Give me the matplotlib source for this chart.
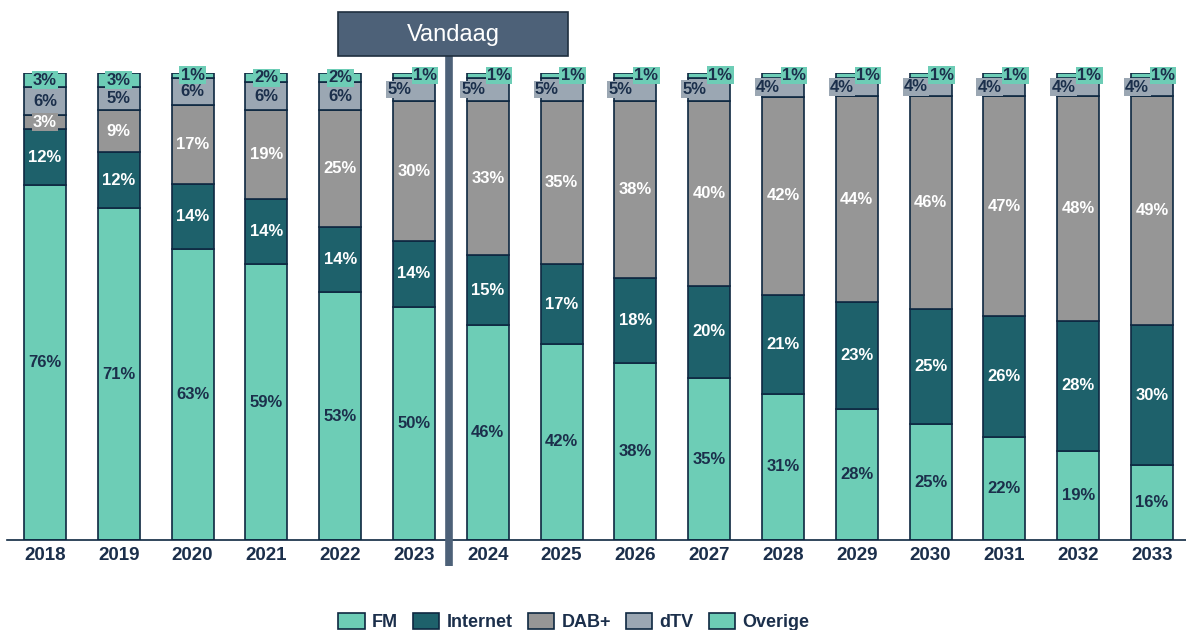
import numpy as np
import matplotlib
matplotlib.use("Agg")
import matplotlib.pyplot as plt
from matplotlib.patches import Rectangle, Patch

plt.rcParams['font.family'] = ['Liberation Sans', 'DejaVu Sans']

years = ["2018", "2019", "2020", "2021", "2022", "2023", "2024", "2025",
         "2026", "2027", "2028", "2029", "2030", "2031", "2032", "2033"]
fm       = [76, 71, 63, 59, 53, 50, 46, 42, 38, 35, 31, 28, 25, 22, 19, 16]
internet = [12, 12, 14, 14, 14, 14, 15, 17, 18, 20, 21, 23, 25, 26, 28, 30]
dab      = [3, 9, 17, 19, 25, 30, 33, 35, 38, 40, 42, 44, 46, 47, 48, 49]
dtv      = [6, 5, 6, 6, 6, 5, 5, 5, 5, 5, 4, 4, 4, 4, 4, 4]
overige  = [3, 3, 1, 2, 2, 1, 1, 1, 1, 1, 1, 1, 1, 1, 1, 1]
series_names = ["FM", "Internet", "DAB+", "dTV", "Overige"]
today_label = "Vandaag"

C_FM = "#6DCDB6"
C_INT = "#1E616B"
C_DAB = "#969696"
C_DTV = "#9BA7B3"
C_OV = "#6DCDB6"
EDGE = "#0E2841"
NAVY = "#1B2F4B"
BOX = "#4D6178"

series = [fm, internet, dab, dtv, overige]
colors = [C_FM, C_INT, C_DAB, C_DTV, C_OV]
txtcol = [NAVY, "white", "white", NAVY, NAVY]

W, H = 1186, 630
fig = plt.figure(figsize=(W / 100, H / 100), dpi=100)
ax = fig.add_axes([7 / W, 1 - 540 / H, 1179 / W, (540 - 73) / H])

data = np.array(series, dtype=float)
norm = data / data.sum(axis=0) * 100
x = np.arange(len(years))
bw = 0.57
bottom = np.zeros(len(years))
for i, (vals, col) in enumerate(zip(norm, colors)):
    ax.bar(x, vals, bw, bottom=bottom, color=col, edgecolor=EDGE, linewidth=1.2,
           label=series_names[i], zorder=2)
    for j in range(len(years)):
        yc = bottom[j] + vals[j] / 2
        xc = x[j]
        if j >= 5 and i == 3:
            xc = x[j] - 0.2
        if j >= 5 and i == 4:
            xc = x[j] + 0.15
        ax.text(xc, yc, f"{series[i][j]}%", ha="center", va="center",
                fontsize=12, fontweight="bold", color=txtcol[i], zorder=5 + i,
                bbox=dict(boxstyle="square,pad=0.08", facecolor=col, edgecolor="none"),
                clip_on=False)
    bottom += vals

ax.set_xlim((7 - 45) / 73.8, (1186 - 45) / 73.8)
ax.set_ylim(0, 100)
for s in ["top", "right", "left"]:
    ax.spines[s].set_visible(False)
ax.spines["bottom"].set_color(EDGE)
ax.spines["bottom"].set_linewidth(1.2)
ax.set_yticks([])
ax.set_xticks(x)
ax.set_xticklabels(years, fontsize=13.5, fontweight="bold", color=NAVY)
ax.tick_params(axis="x", length=0, pad=5)

# Today divider
ax.plot([5.47, 5.47], [(540 - 566) / 467 * 100, (540 - 56) / 467 * 100],
        color=BOX, linewidth=5.5, clip_on=False, zorder=10, solid_capstyle="butt")
fig.patches.append(Rectangle((338 / W, 1 - 56 / H), 230 / W, 44 / H,
                             transform=fig.transFigure, facecolor=BOX,
                             edgecolor="#1F2F3F", linewidth=1.2, zorder=11))
fig.text(453 / W, 1 - 35 / H, today_label, ha="center", va="center",
         fontsize=17, color="white", zorder=12)

handles = [Patch(facecolor=c, edgecolor=EDGE, linewidth=1.2) for c in colors]
leg = fig.legend(handles, series_names, loc="center", bbox_to_anchor=(574 / W, 1 - 622 / H),
                 ncol=5, frameon=False, handlelength=1.45, handleheight=0.95,
                 columnspacing=0.85, handletextpad=0.4,
                 prop=dict(family="Liberation Sans", weight="bold", size=13))
for t in leg.get_texts():
    t.set_color(NAVY)

fig.savefig("out.png", dpi=100)
